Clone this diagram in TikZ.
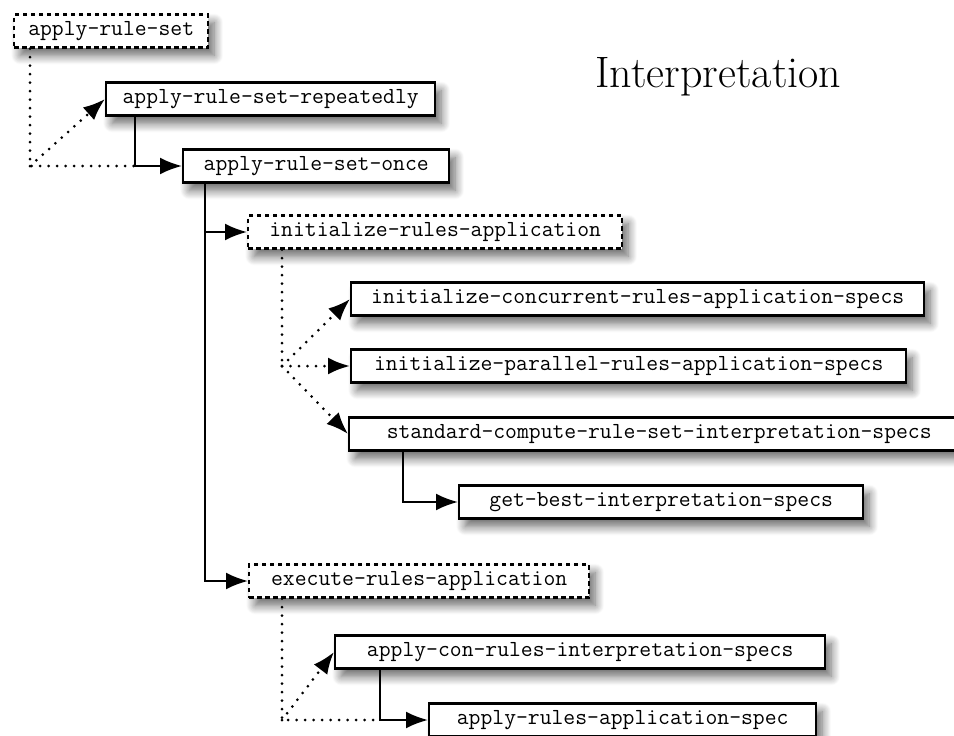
\documentclass[tikz,border=0pt]{standalone}
\usepackage{tikz}
\usetikzlibrary{arrows.meta,shadows.blur}
\tikzset{
  fn/.style={draw, line width=2.4pt, fill=white, minimum height=33pt, inner sep=0pt, anchor=west,
    font=\fontsize{23}{28}\selectfont\ttfamily,
    blur shadow={shadow xshift=6pt, shadow yshift=-8pt, shadow blur radius=9pt, shadow blur steps=12, shadow opacity=60}},
  gfn/.style={fn, dash pattern=on 4.5pt off 3.5pt},
  call/.style={line width=2.4pt, -{Latex[length=22pt,width=17pt]}},
  sub/.style={line width=3pt, dash pattern=on 0pt off 8.5pt, line cap=round},
  subarrow/.style={sub, -{Latex[length=22pt,width=17pt]}}
}

\begin{document}
\begin{tikzpicture}[x=1pt,y=-1pt]
			%%%%% START %%%%%
			\useasboundingbox (0,0) rectangle (954,736);
			
			\node[anchor=base west, font=\fontsize{44}{52}\selectfont] (title) at (592,87) {Interpretation};
			
			\node[gfn, minimum width=194pt] (ars) at (13,31) {apply-rule-set};
			\node[fn, minimum width=329pt] (rep) at (105,99) {apply-rule-set-repeatedly};
			\node[fn, minimum width=266pt] (once) at (182,166) {apply-rule-set-once};
			
			\node[gfn, minimum width=374pt] (initapp) at (247,232) {initialize-rules-application};
			\node[fn, minimum width=573pt] (conc) at (350,299) {initialize-concurrent-rules-application-specs};
			\node[fn, minimum width=555pt] (par) at (350,366) {initialize-parallel-rules-application-specs};
			\node[fn, minimum width=620pt] (std) at (348,434) {standard-compute-rule-set-interpretation-specs};
			\node[fn, minimum width=404pt] (best) at (458,502) {get-best-interpretation-specs};
			
			\node[gfn, minimum width=340pt] (execapp) at (248,581) {execute-rules-application};
			\node[fn, minimum width=490pt] (acon) at (334,652) {apply-con-rules-interpretation-specs};
			\node[fn, minimum width=387pt] (arspec) at (428,720) {apply-rules-application-spec};
			
			%%%%% TURNS %%%%%
			\coordinate (t1) at (30,166);
			\coordinate (k1) at (135,166);
			\coordinate (k2) at (205,0);
			\coordinate (t2) at (282,366);
			\coordinate (k3) at (403,0);
			\coordinate (t3) at (282,720);
			\coordinate (k4) at (380,720);
			
			\draw[sub] (ars.south -| t1) -- (t1) -- (k1);
			\draw[subarrow] (t1) -- (rep.west);
			\draw[call] (rep.south -| k1) -- (k1) -- (once.west);
			
			\draw[call] (once.south -| k2) |- (initapp.west);
			\draw[call] (once.south -| k2) |- (execapp.west);
			
			\draw[sub] (initapp.south -| t2) -- (t2);
			\foreach \n in {conc,par,std}
				\draw[subarrow] (t2) -- (\n.west);
			\draw[call] (std.south -| k3) |- (best.west);
			
			\draw[sub] (execapp.south -| t3) -- (t3) -- (k4);
			\draw[subarrow] (t3) -- (acon.west);
			\draw[call] (acon.south -| k4) |- (arspec.west);
			
			%%%%% END %%%%%
\end{tikzpicture}
\end{document}
